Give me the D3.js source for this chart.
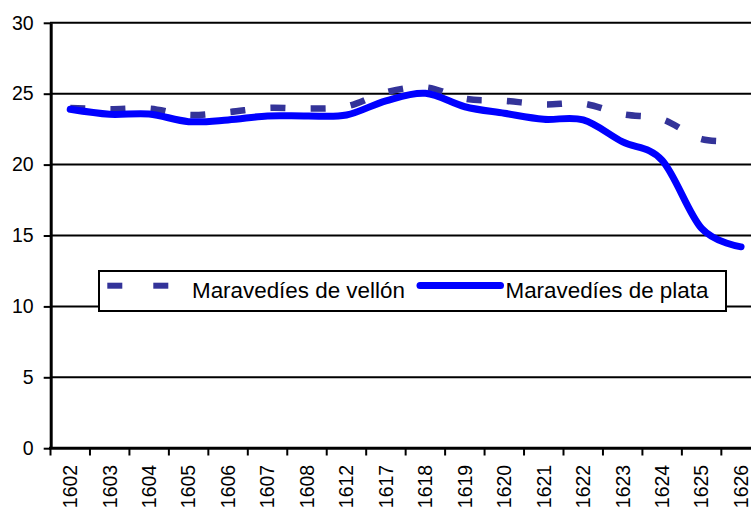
<!DOCTYPE html>
<html>
<head>
<meta charset="utf-8">
<script src="https://cdn.jsdelivr.net/npm/d3@7"></script>
<style>
  body { margin: 0; background: #fff; }
  text { font-family: "Liberation Sans", Arial, sans-serif; fill: #000; }
</style>
</head>
<body>
<svg width="751" height="508"></svg>
<script>
// categories (years) and the two series
var years = ["1602", "1603", "1604", "1605", "1606", "1607", "1608", "1612", "1617",
             "1618", "1619", "1620", "1621", "1622", "1623", "1624", "1625", "1626"];
var vellon = [24.0, 23.9, 23.95, 23.5, 23.7, 24.0, 23.95, 24.1, 25.1,
              25.45, 24.65, 24.5, 24.25, 24.3, 23.55, 23.2, 21.8, 21.7];
var plata = [23.9, 23.55, 23.57, 23.03, 23.15, 23.43, 23.43, 23.5, 24.5,
             25.03, 24.08, 23.62, 23.2, 23.15, 21.6, 20.3, 15.5, 14.2];
var yTicks = [0, 5, 10, 15, 20, 25, 30];
var seriesNames = ["Maravedíes de vellón", "Maravedíes de plata"];

var svg = d3.select("svg"),
    width = +svg.attr("width"),
    height = +svg.attr("height");

var x = d3.scaleBand()
    .domain(years)
    .range([50.5, 760.8]);

var y = d3.scaleLinear()
    .domain([0, 30])
    .range([448.2, 22.8]);

var bw = x.bandwidth();

/*horizontal gridlines*/
svg.append("g")
  .selectAll("line")
  .data(yTicks.filter(function(d) { return d > 0; }))
  .enter().append("line")
    .attr("x1", 50)
    .attr("x2", width)
    .attr("y1", function(d) { return y(d); })
    .attr("y2", function(d) { return y(d); })
    .attr("stroke", "#000")
    .attr("stroke-width", 2);

/*y axis*/
var yAxis = svg.append("g")
    .attr("transform", "translate(50.7,0)")
    .call(d3.axisLeft(y).tickValues(yTicks).tickSize(7).tickSizeOuter(0).tickPadding(10));
yAxis.select(".domain").attr("stroke", "#000").attr("stroke-width", 3);
yAxis.selectAll(".tick line").attr("stroke", "#000").attr("stroke-width", 2);
yAxis.selectAll(".tick text")
    .attr("font-size", "19.5px")
    .attr("font-family", "Liberation Sans, Arial, sans-serif")
    .attr("fill", "#000");

/*x axis - labels from the band scale, ticks between categories*/
var xAxis = svg.append("g")
    .attr("transform", "translate(0,448.3)")
    .call(d3.axisBottom(x).tickSize(0).tickSizeOuter(0));
xAxis.select(".domain").attr("stroke", "#000").attr("stroke-width", 3)
    .attr("d", "M49," + 0 + "H" + width);
xAxis.selectAll(".tick text")
    .attr("font-size", "19.5px")
    .attr("font-family", "Liberation Sans, Arial, sans-serif")
    .attr("fill", "#000")
    .attr("transform", "rotate(-90)")
    .attr("text-anchor", "end")
    .attr("x", -16.5)
    .attr("y", 0)
    .attr("dy", "0.35em");

svg.append("g")
  .selectAll("line")
  .data(years.map(function(d) { return x(d); }).concat([x(years[years.length - 1]) + bw]))
  .enter().append("line")
    .attr("x1", function(d) { return d; })
    .attr("x2", function(d) { return d; })
    .attr("y1", 448)
    .attr("y2", 455.5)
    .attr("stroke", "#000")
    .attr("stroke-width", 2);

/*smoothed lines like excel*/
var line = d3.line()
    .x(function(d, i) { return x(years[i]) + bw / 2; })
    .y(function(d) { return y(d); })
    .curve(d3.curveCatmullRom.alpha(0));

var vPath = svg.append("path")
    .datum(vellon)
    .attr("d", line)
    .attr("fill", "none")
    .attr("stroke", "#333399")
    .attr("stroke-width", 6.5);

// one dash per category step
var period = vPath.node().getTotalLength() / (years.length - 1);
vPath.attr("stroke-dasharray", "15," + (period - 15));

svg.append("path")
    .datum(plata)
    .attr("d", line)
    .attr("fill", "none")
    .attr("stroke", "#0000ff")
    .attr("stroke-width", 7)
    .attr("stroke-linecap", "round")
    .attr("stroke-linejoin", "round");

/*legend*/
var legend = svg.append("g");
legend.append("rect")
    .attr("x", 99)
    .attr("y", 271)
    .attr("width", 627)
    .attr("height", 40)
    .attr("fill", "#fff")
    .attr("stroke", "#000")
    .attr("stroke-width", 2);

legend.selectAll("rect.dash")
  .data([107.3, 153.3])
  .enter().append("rect")
    .attr("class", "dash")
    .attr("x", function(d) { return d; })
    .attr("y", 282.7)
    .attr("width", 15)
    .attr("height", 6)
    .attr("fill", "#333399");

legend.append("line")
    .attr("x1", 420)
    .attr("x2", 500.5)
    .attr("y1", 285.4)
    .attr("y2", 285.4)
    .attr("stroke", "#0000ff")
    .attr("stroke-width", 7)
    .attr("stroke-linecap", "round");

legend.selectAll("text")
  .data(seriesNames)
  .enter().append("text")
    .attr("x", function(d, i) { return i === 0 ? 192 : 505.5; })
    .attr("y", 297.6)
    .attr("font-size", "22.4px")
    .text(function(d) { return d; });
</script>
</body>
</html>
